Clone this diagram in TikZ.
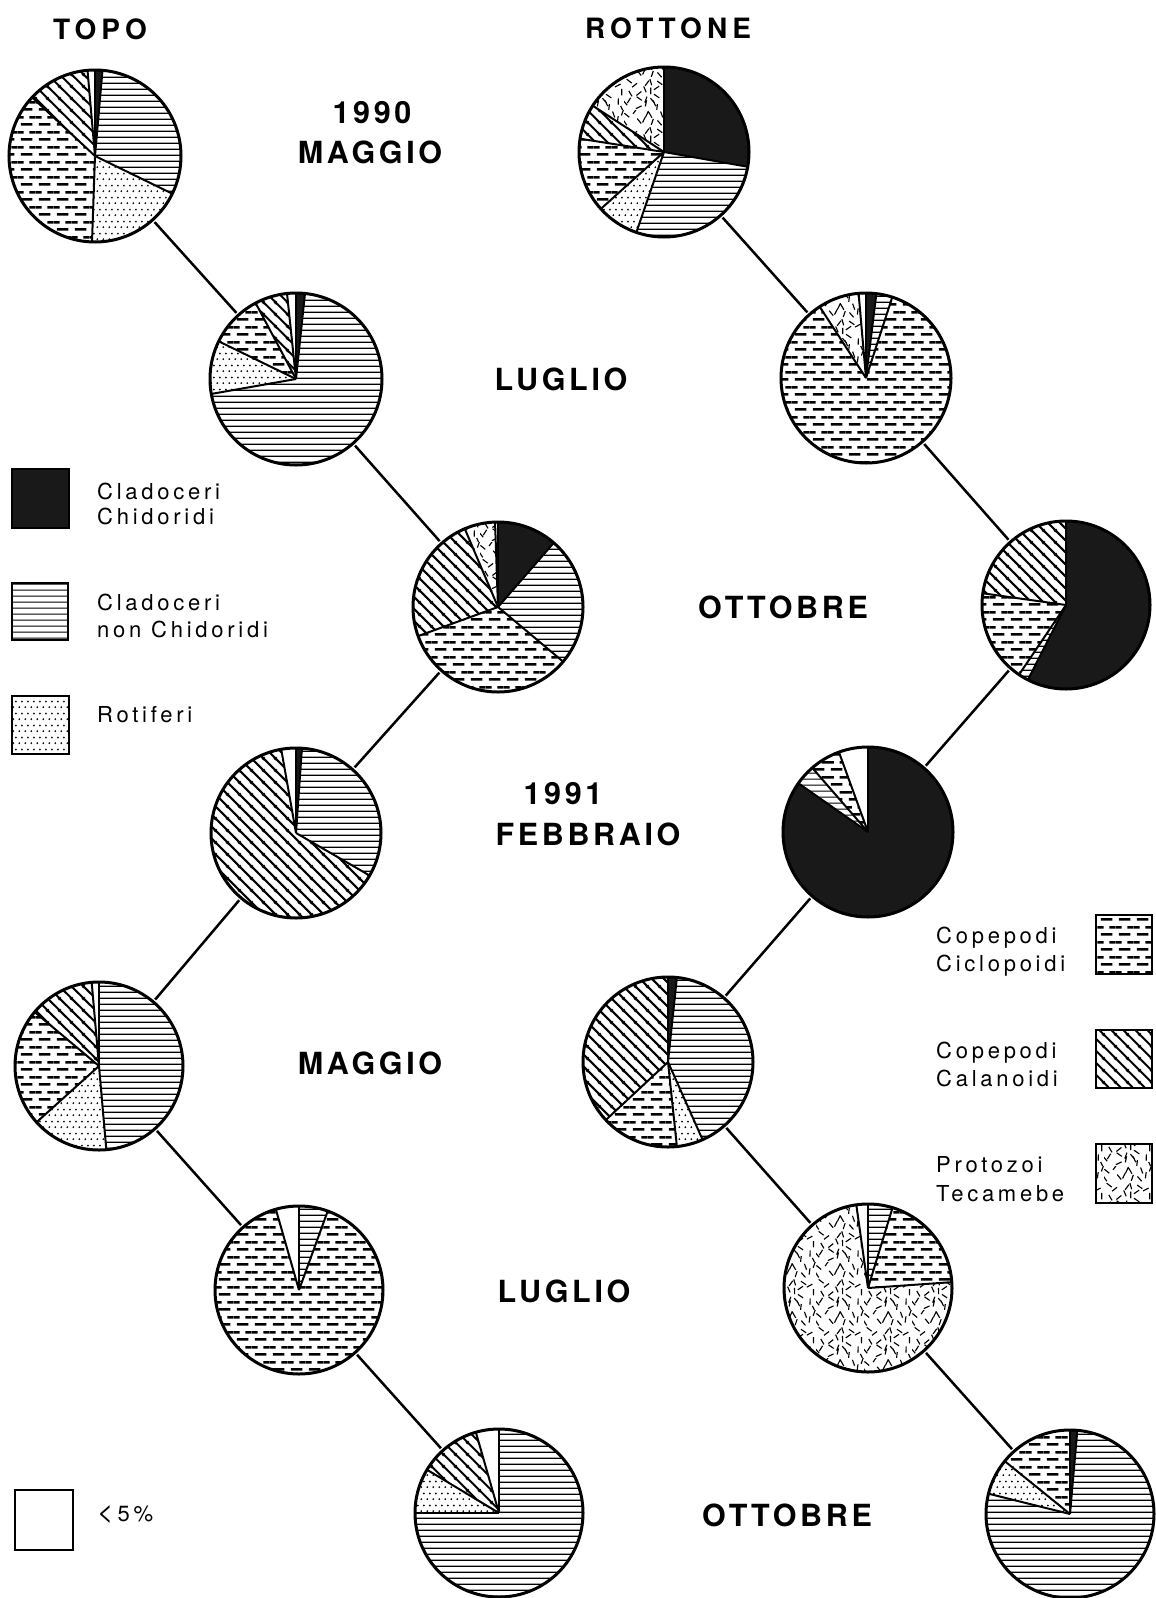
\documentclass[tikz,border=0pt]{standalone}
\usepackage{fontspec}
\usetikzlibrary{patterns}
\newfontfamily\hvL[LetterSpace=12]{TeX Gyre Heros Bold}
\newfontfamily\hvT[LetterSpace=18]{TeX Gyre Heros Bold}
\newfontfamily\hvS[LetterSpace=17]{TeX Gyre Heros}
% ---- patterns ----
\pgfdeclarepatternformonly{phor}{\pgfqpoint{0pt}{0pt}}{\pgfqpoint{10pt}{6.3pt}}{\pgfqpoint{10pt}{6.3pt}}{%
  \pgfsetlinewidth{1.35pt}\pgfpathmoveto{\pgfqpoint{-1pt}{3.15pt}}\pgfpathlineto{\pgfqpoint{11pt}{3.15pt}}\pgfusepathqstroke}
\pgfdeclarepatternformonly{pdash}{\pgfqpoint{0pt}{0pt}}{\pgfqpoint{18pt}{15pt}}{\pgfqpoint{18pt}{15pt}}{%
  \pgfsetlinewidth{2.6pt}%
  \pgfpathmoveto{\pgfqpoint{3pt}{3.75pt}}\pgfpathlineto{\pgfqpoint{15pt}{3.75pt}}%
  \pgfpathmoveto{\pgfqpoint{12pt}{11.25pt}}\pgfpathlineto{\pgfqpoint{18.5pt}{11.25pt}}%
  \pgfpathmoveto{\pgfqpoint{-0.5pt}{11.25pt}}\pgfpathlineto{\pgfqpoint{6pt}{11.25pt}}%
  \pgfusepathqstroke}
\pgfdeclarepatternformonly{pdiag}{\pgfqpoint{0pt}{0pt}}{\pgfqpoint{12pt}{12pt}}{\pgfqpoint{12pt}{12pt}}{%
  \pgfsetlinewidth{2.2pt}%
  \pgfpathmoveto{\pgfqpoint{-1pt}{13pt}}\pgfpathlineto{\pgfqpoint{13pt}{-1pt}}%
  \pgfpathmoveto{\pgfqpoint{-1pt}{1pt}}\pgfpathlineto{\pgfqpoint{1pt}{-1pt}}%
  \pgfpathmoveto{\pgfqpoint{11pt}{13pt}}\pgfpathlineto{\pgfqpoint{13pt}{11pt}}%
  \pgfusepathqstroke}
\pgfdeclarepatternformonly{pdots}{\pgfqpoint{0pt}{0pt}}{\pgfqpoint{6pt}{12pt}}{\pgfqpoint{6pt}{12pt}}{%
  \pgfpathcircle{\pgfqpoint{1.5pt}{3pt}}{1.1pt}\pgfpathcircle{\pgfqpoint{4.5pt}{9pt}}{1.1pt}\pgfusepathqfill}
\pgfdeclarepatternformonly{pproto}{\pgfqpoint{0pt}{0pt}}{\pgfqpoint{48pt}{48pt}}{\pgfqpoint{48pt}{48pt}}{%
  \pgfsetlinewidth{1.15pt}\pgfmathsetseed{4711}%
  \foreach \gx in {0,8,16,24,32,40}{\foreach \gy in {0,8,16,24,32,40}{%
    \pgfmathsetmacro\ang{25+rnd*130}\pgfmathsetmacro\px{\gx+4+(rnd-0.5)*7}\pgfmathsetmacro\py{\gy+4+(rnd-0.5)*7}%
    \pgfpathmoveto{\pgfpointadd{\pgfpoint{\px pt}{\py pt}}{\pgfpointpolar{\ang}{3.2pt}}}%
    \pgfpathlineto{\pgfpointadd{\pgfpoint{\px pt}{\py pt}}{\pgfpointpolar{\ang+180}{3.2pt}}}}}%
  \pgfusepathqstroke}
% slice: start, end (compass degrees, clockwise from north), fill style
\newcommand\Sl[3]{\path[#3] (0,0) -- (#1-90:\R) arc[start angle=#1-90,end angle=#2-90,radius=\R] -- cycle;\draw[line width=2pt] (0,0) -- (#1-90:\R);}
\newcommand\Rim{\draw[line width=3pt] (0,0) circle[radius=\R];}
\tikzset{
  blk/.style={fill=black!90},
  hor/.style={pattern=phor},
  dsh/.style={pattern=pdash},
  dia/.style={pattern=pdiag},
  dot/.style={pattern=pdots},
  pro/.style={pattern=pproto},
  wht/.style={},
  pienode/.style={circle,inner sep=0pt,outer sep=3pt,draw=none},
  conn/.style={line width=2.5pt},
  month/.style={anchor=base,inner sep=0pt,font=\hvL\fontsize{30.5}{30.5}\selectfont},
  title/.style={anchor=base,inner sep=0pt,font=\hvT\fontsize{28}{28}\selectfont},
  leg/.style={anchor=base west,inner sep=0pt,font=\hvS\fontsize{22}{22}\selectfont},
  legbox/.style={line width=2.6pt}
}
\begin{document}
\begin{tikzpicture}[x=1pt,y=-1pt]
\fill[white] (0,0) rectangle (1156,1598);
\useasboundingbox (0,0) rectangle (1156,1598);
% ---------- TOPO ----------
\begin{scope}[shift={(95,156)}]\def\R{86}
\Sl{0}{5}{blk}\Sl{5}{116}{hor}\Sl{116}{182}{dot}\Sl{182}{313}{dsh}\Sl{313}{355}{dia}\Sl{355}{360}{wht}\Rim
\end{scope}
\node[pienode,minimum size=172pt] (T1) at (95,156) {};
\begin{scope}[shift={(296,379)}]\def\R{86}
\Sl{0}{6}{blk}\Sl{6}{260}{hor}\Sl{260}{296}{dot}\Sl{296}{332}{dsh}\Sl{332}{354}{dia}\Sl{354}{360}{wht}\Rim
\end{scope}
\node[pienode,minimum size=172pt] (T2) at (296,379) {};
\begin{scope}[shift={(498,607)}]\def\R{85}
\Sl{0}{41}{blk}\Sl{41}{130}{hor}\Sl{130}{250}{dsh}\Sl{250}{337}{dia}\Sl{337}{358}{pro}\Sl{358}{360}{wht}\Rim
\end{scope}
\node[pienode,minimum size=170pt] (T3) at (498,607) {};
\begin{scope}[shift={(296,833)}]\def\R{85}
\Sl{0}{4}{blk}\Sl{4}{120}{hor}\Sl{120}{350}{dia}\Sl{350}{360}{wht}\Rim
\end{scope}
\node[pienode,minimum size=170pt] (T4) at (296,833) {};
\begin{scope}[shift={(99,1066)}]\def\R{84}
\Sl{0}{175}{hor}\Sl{175}{228}{dot}\Sl{228}{310}{dsh}\Sl{310}{355}{dia}\Sl{355}{360}{wht}\Rim
\end{scope}
\node[pienode,minimum size=168pt] (T5) at (99,1066) {};
\begin{scope}[shift={(299,1290)}]\def\R{84}
\Sl{0}{20}{hor}\Sl{20}{344}{dsh}\Sl{344}{360}{wht}\Rim
\end{scope}
\node[pienode,minimum size=168pt] (T6) at (299,1290) {};
\begin{scope}[shift={(499,1513)}]\def\R{84}
\Sl{0}{270}{hor}\Sl{270}{301}{dot}\Sl{301}{344}{dia}\Sl{344}{360}{wht}\Rim
\end{scope}
\node[pienode,minimum size=168pt] (T7) at (499,1513) {};
% ---------- ROTTONE ----------
\begin{scope}[shift={(664,152)}]\def\R{85}
\Sl{0}{100}{blk}\Sl{100}{199}{hor}\Sl{199}{228}{dot}\Sl{228}{279}{dsh}\Sl{279}{303}{dia}\Sl{303}{360}{pro}\Rim
\end{scope}
\node[pienode,minimum size=170pt] (R1) at (664,152) {};
\begin{scope}[shift={(866,378)}]\def\R{85}
\Sl{0}{7}{blk}\Sl{7}{18}{hor}\Sl{18}{327}{dsh}\Sl{327}{355}{pro}\Sl{355}{360}{wht}\Rim
\end{scope}
\node[pienode,minimum size=170pt] (R2) at (866,378) {};
\begin{scope}[shift={(1066,605)}]\def\R{84}
\Sl{0}{207}{blk}\Sl{207}{214}{hor}\Sl{214}{278}{dsh}\Sl{278}{360}{dia}\Rim
\end{scope}
\node[pienode,minimum size=168pt] (R3) at (1066,605) {};
\begin{scope}[shift={(868,832)}]\def\R{85}
\Sl{0}{305}{blk}\Sl{305}{319}{hor}\Sl{319}{340}{dsh}\Sl{340}{360}{wht}\Rim
\end{scope}
\node[pienode,minimum size=170pt] (R4) at (868,832) {};
\begin{scope}[shift={(668,1062)}]\def\R{85}
\Sl{0}{6}{blk}\Sl{6}{156}{hor}\Sl{156}{174}{dot}\Sl{174}{227}{dsh}\Sl{227}{360}{dia}\Rim
\end{scope}
\node[pienode,minimum size=170pt] (R5) at (668,1062) {};
\begin{scope}[shift={(868,1288)}]\def\R{84}
\Sl{0}{17}{hor}\Sl{17}{86}{dsh}\Sl{86}{352}{pro}\Sl{352}{360}{wht}\Rim
\end{scope}
\node[pienode,minimum size=168pt] (R6) at (868,1288) {};
\begin{scope}[shift={(1070,1514)}]\def\R{84}
\Sl{0}{5}{blk}\Sl{5}{284}{hor}\Sl{284}{309}{dot}\Sl{309}{360}{dsh}\Rim
\end{scope}
\node[pienode,minimum size=168pt] (R7) at (1070,1514) {};
% ---------- connectors ----------
\draw[conn] (T1) -- (T2); \draw[conn] (T2) -- (T3); \draw[conn] (T3) -- (T4);
\draw[conn] (T4) -- (T5); \draw[conn] (T5) -- (T6); \draw[conn] (T6) -- (T7);
\draw[conn] (R1) -- (R2); \draw[conn] (R2) -- (R3); \draw[conn] (R3) -- (R4);
\draw[conn] (R4) -- (R5); \draw[conn] (R5) -- (R6); \draw[conn] (R6) -- (R7);
% ---------- titles and months ----------
\node[title] (tTopo) at (100,39) {TOPO};
\node[title] (tRott) at (668,38) {ROTTONE};
\node[month] (m1a) at (372,123) {1990};
\node[month] (m1b) at (370,163) {MAGGIO};
\node[month] (m2) at (561,390) {LUGLIO};
\node[month] (m3) at (783,618) {OTTOBRE};
\node[month] (m4a) at (563,804) {1991};
\node[month] (m4b) at (588,845) {FEBBRAIO};
\node[month] (m5) at (370,1074) {MAGGIO};
\node[month] (m6) at (564,1302) {LUGLIO};
\node[month] (m7) at (787,1526) {OTTOBRE};
% ---------- legend left ----------
\draw[legbox,blk] (12,469) rectangle (69,528);
\node[leg] (l1a) at (97,499) {Cladoceri};
\node[leg] (l1b) at (97,524) {Chidoridi};
\fill[hor] (12,583) rectangle (68,640);
\draw[legbox] (12,583) rectangle (68,640);
\node[leg] (l2a) at (97,610) {Cladoceri};
\node[leg] (l2b) at (97,637) {non Chidoridi};
\fill[dot] (12,696) rectangle (69,754);
\draw[legbox] (12,696) rectangle (69,754);
\node[leg] (l3) at (97,722) {Rotiferi};
\draw[legbox] (15,1490) rectangle (73,1550);
\node[leg] (l7) at (97,1521) {{\fontsize{28}{28}\selectfont<}\hspace{4pt}5\%};
% ---------- legend right ----------
\fill[dsh] (1096,915) rectangle (1152,974);
\draw[legbox] (1096,915) rectangle (1152,974);
\node[leg] (l4a) at (936,943) {Copepodi};
\node[leg] (l4b) at (936,971) {Ciclopoidi};
\fill[dia] (1096,1030) rectangle (1152,1088);
\draw[legbox] (1096,1030) rectangle (1152,1088);
\node[leg] (l5a) at (936,1058) {Copepodi};
\node[leg] (l5b) at (936,1086) {Calanoidi};
\fill[pro] (1096,1144) rectangle (1152,1203);
\draw[legbox] (1096,1144) rectangle (1152,1203);
\node[leg] (l6a) at (936,1172) {Protozoi};
\node[leg] (l6b) at (936,1201) {Tecamebe};
\end{tikzpicture}
\end{document}
